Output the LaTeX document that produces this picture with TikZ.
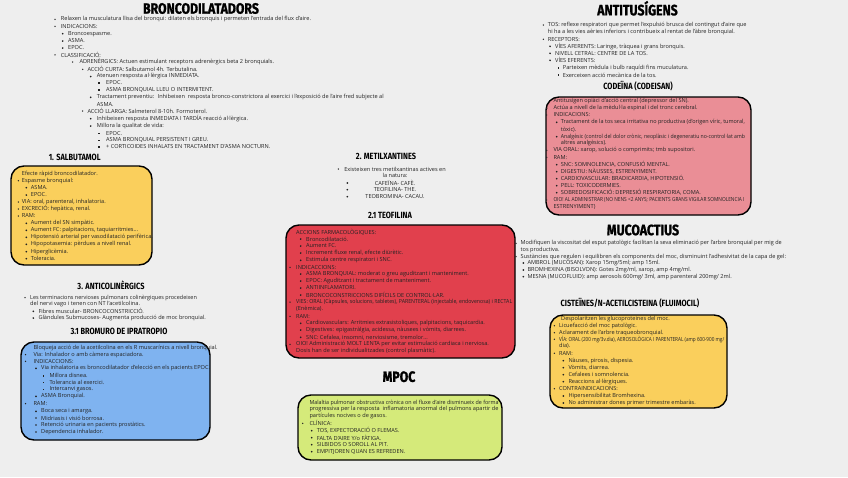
\documentclass[tikz,border=0pt]{standalone}
\usepackage{fontspec}
\usepackage{graphicx}
\setmainfont{Open Sans}
\newfontfamily\ttlfont[FakeStretch=0.82]{Fira Sans}
\newfontfamily\bigfont[FakeStretch=0.82,FakeBold=1.2]{Fira Sans}
\definecolor{bgc}{RGB}{238,238,238}
\definecolor{textc}{RGB}{35,35,35}
\definecolor{yel}{RGB}{250,207,92}
\definecolor{bluec}{RGB}{127,179,240}
\definecolor{redc}{RGB}{225,64,77}
\definecolor{greenc}{RGB}{213,234,122}
\definecolor{pinkc}{RGB}{234,142,150}
\newcounter{ln}
\newsavebox\jbox
\tikzset{
 txt/.style={anchor=west, inner sep=0pt, font=\fontsize{5.6}{6}\selectfont, text=textc},
 ctxt/.style={txt, anchor=center},
 bigttl/.style={inner sep=0pt, text=black, font=\bigfont\bfseries\fontsize{15}{15}\selectfont},
 subttl/.style={inner sep=0pt, text=black, font=\ttlfont\bfseries\fontsize{9}{9}\selectfont},
 card/.style={draw=black, line width=1.4pt, rounded corners=13pt},
}
\newcommand\tline[3]{\stepcounter{ln}\node[txt] (L\theln) at (#1,#2) {#3};}
\newcommand\ctline[3]{\stepcounter{ln}\node[ctxt] (L\theln) at (#1,#2) {#3};}
\newcommand\dotA[2]{\fill[textc] (#1,#2) circle (0.75);}
\newcommand\dotB[2]{\fill[textc] (#1,#2) circle (0.95);}
\newcommand\sqC[2]{\fill[textc] (#1-0.8,#2-0.8) rectangle ++(1.6,1.6);}
\newcommand\iA[4]{\dotA{#1}{#3}\tline{#2}{#3}{#4}}
\newcommand\iB[4]{\dotB{#1}{#3}\tline{#2}{#3}{#4}}
\newcommand\iC[4]{\sqC{#1}{#3}\tline{#2}{#3}{#4}}
\newcommand\jst[2]{\sbox\jbox{#2}\ifdim\wd\jbox>#1pt\resizebox{#1pt}{\height}{\usebox\jbox}\else\makebox[#1pt][s]{#2}\fi}
\begin{document}
\begin{tikzpicture}[x=1pt,y=-1pt]
\fill[bgc] (0,0) rectangle (848,477);
\useasboundingbox (0,0) rectangle (848,477);

% ===== BRONCODILATADORS =====
\node[bigttl] (tBronco) at (201,8.5) {BRONCODILATADORS};
\iA{55}{60.7}{19.3}{Relaxen la musculatura llisa del bronqui: dilaten els bronquis i permeten l'entrada del flux d'aire.}
\iA{55}{60.7}{26.3}{INDICACIONS:}
\iB{62.7}{68}{33.7}{Broncoespasme.}
\iB{62.7}{68}{41}{ASMA.}
\iB{62.7}{68}{48}{EPOC.}
\iA{55}{60.7}{54.8}{CLASSIFICACIÓ:}
\iA{72.7}{79.3}{62}{ADRENÈRGICS: Actuen estimulant receptors adrenèrgics beta 2 bronquials.}
\iA{82.7}{87.3}{69.3}{ACCIÓ CURTA: Salbutamol 4h. Terbutalina.}
\iB{90.7}{96.7}{76.5}{Atenuen resposta al·lèrgica INMEDIATA.}
\iC{99}{106}{83}{EPOC.}
\iC{99}{106}{90}{ASMA BRONQUIAL LLEU O INTERMITENT.}
\iB{90.7}{96.7}{97.3}{Tractament preventiu: \ Inhibeixen \ resposta bronco-constrictora al exercici i l'exposició de l'aire fred subjecte al}
\tline{96.7}{104.3}{ASMA.}
\iA{82.7}{87.3}{111}{ACCIÓ LLARGA: Salmeterol 8-10h. Formoterol.}
\iB{90.7}{96.7}{118.7}{Inhibeixen resposta INMEDIATA I TARDÍA reacció al·lèrgica.}
\iB{90.7}{96.7}{126}{Millora la qualitat de vida:}
\iC{99}{106}{133.3}{EPOC.}
\iC{99}{106}{140.3}{ASMA BRONQUIAL PERSISTENT I GREU.}
\iC{99}{106}{146.7}{+ CORTICOIDES INHALATS EN TRACTAMENT D'ASMA NOCTURN.}

% ===== 1. SALBUTAMOL =====
\node[subttl] (tSalbu) at (74.7,157.7) {1. SALBUTAMOL};
\draw[card, fill=yel] (11,166) rectangle (152,265);
\tline{21.7}{174}{Efecte ràpid broncodilatador.}
\iA{18.3}{21.7}{180.7}{Espasme bronquial:}
\iB{26.3}{30.7}{187.7}{ASMA.}
\iB{26.3}{30.7}{195}{EPOC.}
\iA{18.3}{21.7}{202}{VIA: oral, parenteral, inhalatoria.}
\iA{18.3}{21.7}{209}{EXCRECIÓ: hepàtica, renal.}
\iA{18.3}{21.7}{216}{RAM:}
\iB{26.3}{30.7}{223.3}{Aument del SN simpàtic.}
\iB{26.3}{30.7}{230.3}{Aument FC: palpitacions, taquiarritmies...}
\iB{26.3}{30.7}{237.3}{Hipotensió arterial per vasodilatació perifèrica.}
\iB{26.3}{30.7}{244.3}{Hipopotasemia: pèrdues a nivell renal.}
\iB{26.3}{30.7}{251.7}{Hiperglicèmia.}
\iB{26.3}{30.7}{258.7}{Toleracia.}

% ===== 3. ANTICOLINERGICS =====
\node[subttl] (tAnti) at (111,285) {3. ANTICOLINÈRGICS};
\iA{25}{30}{297.7}{\jst{166.7}{Les terminacions nervioses pulmonars colinèrgiques procedeixen}}
\tline{30}{304.3}{del nervi vago i tenen con NT l'acetilcolina.}
\iB{33.3}{38.3}{311.3}{Fibres muscular- BRONCOCONSTRICCIÓ.}
\iB{33.3}{38.3}{318}{Glàndules Submucoses- Augmenta producció de moc bronquial.}
\node[subttl] (tIpra) at (119,331) {3.1 BROMURO DE IPRATROPIO};
\draw[card, fill=bluec] (21,342) rectangle (210,440);
\tline{33.3}{348.3}{Bloqueja acció de la acetilcolina en els R muscarínics a nivell bronquial.}
\iA{25.5}{33.3}{354.7}{Via: Inhalador o amb càmera espaciadora.}
\iA{25.5}{33.3}{361.3}{INDICACCIONS:}
\iB{36}{41}{368.3}{Via inhalatoria es broncodilatador d'elecció en els pacients EPOC.}
\iC{43.3}{49.3}{375.7}{Millora disnea.}
\iC{43.3}{49.3}{382.3}{Tolerancia al exercici.}
\iC{43.3}{49.3}{389.3}{Intercanvi gasos.}
\iB{36}{41}{396.3}{ASMA Bronquial.}
\iA{25.5}{33.3}{403.7}{RAM:}
\iB{36}{41}{411.3}{Boca seca i amarga.}
\iB{36}{41}{418}{Midriasis i visió borrosa.}
\iB{36}{41}{425}{Retenció urinaria en pacients prostàtics.}
\iB{36}{41}{432}{Dependencia inhalador.}

% ===== 2. METILXANTINES =====
\node[subttl] (tMetil) at (386,156.7) {2. METILXANTINES};
\dotA{338.3}{169}\ctline{395}{169}{Existeixen tres metilxantinas actives en}
\ctline{395}{175.7}{la natura:}
\dotB{347.3}{183}\ctline{395}{183}{CAFEÏNA- CAFÈ.}
\dotB{347.3}{189.7}\ctline{395}{189.7}{TEOFILINA- THE.}
\dotB{347.3}{196.7}\ctline{395}{196.7}{TEOBROMINA- CACAU.}
\node[subttl] (tTeo) at (390,215.7) {2.1 TEOFILINA};
\draw[card, fill=redc] (286,225) rectangle (515,358);
\tline{296}{232.3}{ACCIONS FARMACOLÒGIQUES:}
\iB{300.7}{306}{239}{Broncodilatació.}
\iB{300.7}{306}{246}{Aument FC.}
\iB{300.7}{306}{253}{Increment fluxe renal, efecte diürètic.}
\iB{300.7}{306}{260.3}{Estimula centre respiratori i SNC.}
\iA{290}{296}{267.3}{INDICACCIONS:}
\iB{300.7}{306}{274}{ASMA BRONQUIAL: moderat o greu aguditzant i manteniment.}
\iB{300.7}{306}{281}{EPOC: Aguditzant i tractament de manteniment.}
\iB{300.7}{306}{288}{ANTIINFLAMATORI.}
\iB{300.7}{306}{295}{BRONCOCONSTRICCIONS DIFÍCILS DE CONTROL·LAR.}
\iA{290}{296}{302}{\jst{216}{VIES: ORAL (Càpsules, solucions, tabletes), PARENTERAL (injectable, endovenosa) i RECTAL}}
\tline{296}{309}{(Enèmica).}
\iA{290}{296}{316.3}{RAM:}
\iB{300.7}{306}{323.3}{Cardiovasculars: Arritmies extrasistoliques, palpitacions, taquicardia.}
\iB{300.7}{306}{330}{Digestives: epigastràlgia, acidessa, nàusees i vòmits, diarrees.}
\iB{300.7}{306}{337.3}{SNC: Cefalea, insomni, nerviosisme, tremolor...}
\iA{290}{296}{344.3}{OIO! Administració MOLT LENTA per evitar estimulació cardiaca i nerviosa.}
\tline{296}{351.3}{Dosis han de ser individualitzades (control plasmàtic).}

% ===== MPOC =====
\node[bigttl] (tMpoc) at (399,376.7) {MPOC};
\draw[card, fill=greenc] (298,395) rectangle (502,460);
\tline{309.3}{402.7}{\jst{189}{Malaltia pulmonar obstructiva crònica on el fluxe d'aire disminueix de forma}}
\tline{309.3}{409.5}{\jst{189}{progressiva per la resposta \ inflamatoria anormal del pulmons apartir de}}
\tline{309.3}{416.3}{partícules nocives o de gasos.}
\iA{302.7}{309.3}{423.3}{CLÍNICA:}
\iB{311.7}{316.7}{430.7}{TOS, EXPECTORACIÓ O FLEMAS.}
\iB{311.7}{316.7}{437.7}{FALTA D'AIRE Y/o FÀTIGA.}
\iB{311.7}{316.7}{444.7}{SILBIDOS O SOROLL AL PIT.}
\iB{311.7}{316.7}{451.7}{EMPITJOREN QUAN ES REFREDEN.}

% ===== ANTITUSIGENS =====
\node[bigttl] (tAntitus) at (637.5,8.3) {ANTITUSÍGENS};
\iA{543.3}{547.7}{25}{TOS: reflexe respiratori que permet l'expulsió brusca del contingut d'aire que}
\tline{547.7}{32.3}{hi ha a les vies aèries inferiors i contribueix al rentat de l'àbre bronquial.}
\iA{543.3}{547.7}{39.3}{RECEPTORS:}
\iB{550}{555}{46.3}{VÍES AFERENTS: Laringe, tràquea i grans bronquis.}
\iB{550}{555}{53.3}{NIVELL CETRAL: CENTRE DE LA TOS.}
\iB{550}{555}{60.3}{VÍES EFERENTS:}
\iC{558.3}{562.7}{68}{Parteixen mèdula i bulb raquídi fins muculatura.}
\iC{558.3}{562.7}{75}{Exerceixen acció mecànica de la tos.}
\node[subttl] (tCode) at (638,86) {CODEÏNA (CODEISAN)};
\draw[card, fill=pinkc] (546,97) rectangle (751,215);
\tline{553.3}{101}{Antitusígen opiàci d'acció central (depressor del SN).}
\iA{546.7}{553.3}{108.3}{Actúa a nivell de la mèdul·la espinal i del tronc cerebral.}
\iA{546.7}{553.3}{115}{INDICACIONS:}
\iB{556.7}{560.7}{122.3}{\jst{184}{Tractament de la tos seca irritativa no productiva (d'origen víric, tumoral,}}
\tline{560.7}{129.3}{tòxic).}
\iB{556.7}{560.7}{136.7}{\jst{184}{Analgèsic (control del dolor crònic, neoplàsic i degeneratiu no-control·lat amb}}
\tline{560.7}{143.3}{altres analgèsics).}
\iA{546.7}{553.3}{150.3}{VIA ORAL: xarop, solució o comprimits; tmb supositori.}
\iA{546.7}{553.3}{157.3}{RAM:}
\iB{556.7}{560.7}{164.7}{SNC: SOMNOLENCIA, CONFUSIÓ MENTAL.}
\iB{556.7}{560.7}{171.7}{DIGESTIU: NÀUSSES, ESTRENYIMENT.}
\iB{556.7}{560.7}{178.7}{CARDIOVASCULAR: BRADICARDIA, HIPOTENSIÓ.}
\iB{556.7}{560.7}{185.7}{PELL: TOXICODERMIES.}
\iB{556.7}{560.7}{192.7}{SOBREDOSIFICACIÓ: DEPRESIÓ RESPIRATORIA, COMA.}
\iA{546.7}{553.3}{200}{\jst{191}{OIO! AL ADMINISTRAR (NO NENS <2 ANYS; PACIENTS GRANS VIGILAR SOMNOLENCIA I}}
\tline{553.3}{206.7}{ESTRENYIMENT)}

% ===== MUCOACTIUS =====
\node[bigttl] (tMuco) at (643,230) {MUCOACTIUS};
\iA{516}{520.5}{243.3}{\jst{261}{Modifiquen la viscositat del esput patològic facilitan la seva eliminació per l'arbre bronquial per mig de}}
\tline{520.5}{249.8}{tos productiva.}
\iA{516}{520.5}{256.7}{Sustàncies que regulen i equilibren els components del moc, disminuint l'adhesivitat de la capa de gel:}
\iB{523.3}{527.3}{263}{AMBROL (MUCOSAN): Xarop 15mg/5ml; amp 15ml.}
\iB{523.3}{527.3}{270}{BROMHEXINA (BISOLVON): Gotes 2mg/ml, xarop, amp 4mg/ml.}
\iB{523.3}{527.3}{276.7}{MESNA (MUCOFLUID): amp aerosols 600mg/ 3ml, amp parenteral 200mg/ 2ml.}
\node[subttl] (tCist) at (630,303) {CISTEÏNES/N-ACETILCISTEINA (FLUIMOCIL)};
\draw[card, fill=yel] (550,315) rectangle (727,408);
\tline{561}{319}{Despolaritzen les glucoproteines del moc.}
\iA{554.3}{559}{325.7}{Licuefacció del moc patològic.}
\iA{554.3}{559}{332.7}{Aclarament de l'arbre traqueobronquial.}
\iA{554.3}{559}{339.3}{\jst{165}{VÍA: ORAL (200 mg/3v.dia), AEROSOLÒGICA I PARENTERAL (amp 600-900 mg/}}
\tline{559}{346.3}{dia).}
\iA{554.3}{559}{353.3}{RAM:}
\iB{563.3}{568.3}{360.7}{Nàuses, pirosis, dispesia.}
\iB{563.3}{568.3}{367.7}{Vòmits, diarrea.}
\iB{563.3}{568.3}{374.7}{Cefalees i somnolencia.}
\iB{563.3}{568.3}{381.7}{Reaccions al·lèrgiques.}
\iA{554.3}{559}{388.7}{CONTRAINDICACIONS:}
\iB{563.3}{568.3}{396}{Hipersensibilitat Bromhexina.}
\iB{563.3}{568.3}{403}{No administrar dones primer trimestre embaràs.}
\end{tikzpicture}
\end{document}
